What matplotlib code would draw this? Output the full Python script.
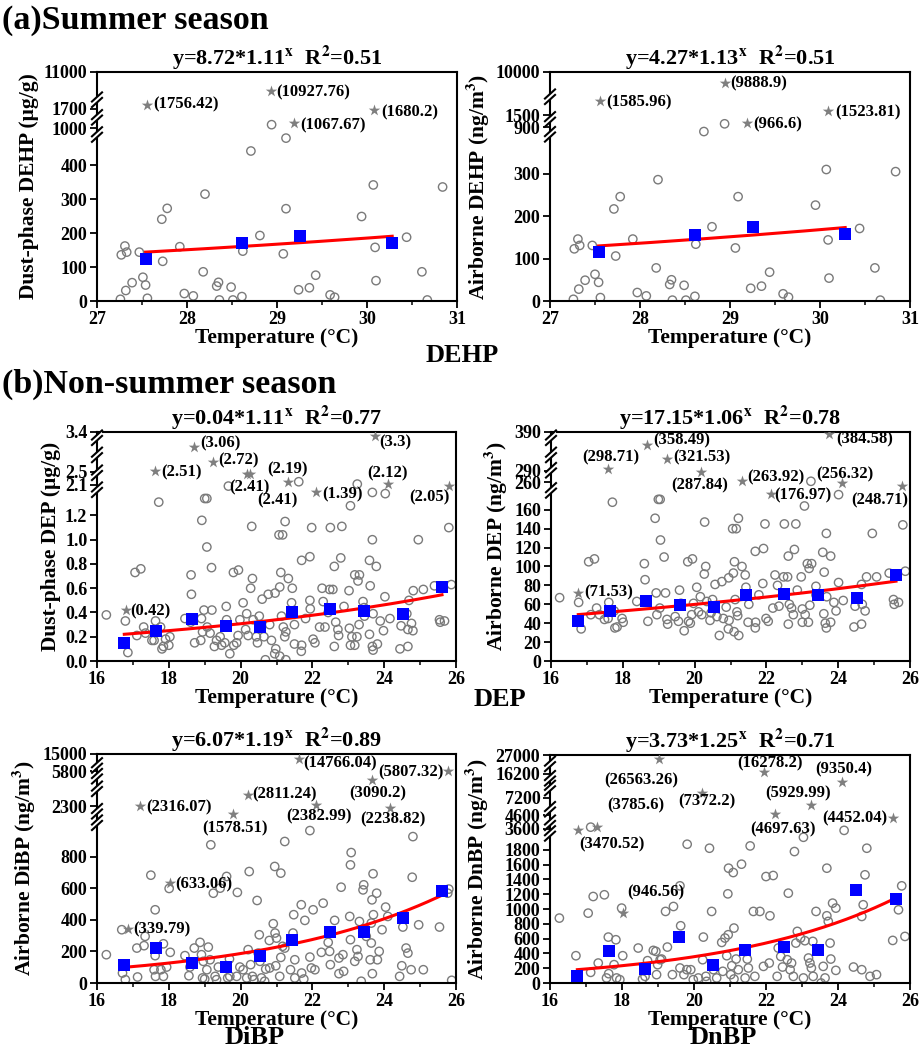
import numpy as np
import matplotlib
matplotlib.use('Agg')
import matplotlib.pyplot as plt
from matplotlib.ticker import AutoMinorLocator
from matplotlib.patches import Polygon

plt.rcParams['font.family'] = ['Liberation Serif', 'DejaVu Serif']
plt.rcParams['font.weight'] = 'bold'
plt.rcParams['axes.labelweight'] = 'bold'
plt.rcParams['axes.titleweight'] = 'bold'
plt.rcParams['mathtext.fontset'] = 'stix'
plt.rcParams['axes.linewidth'] = 1.5

# ---------------- DATA ----------------
# (a) summer, DEHP: temperature (°C), concentration
dehp_dust_pts = [(27.26, 5), (27.27, 136), (27.31, 162), (27.33, 144), (27.32, 31), (27.39, 54), (27.47, 144),
                 (27.51, 70), (27.54, 47), (27.56, 8), (27.72, 241), (27.78, 273), (27.73, 117), (27.92, 160),
                 (27.97, 22), (28.07, 15), (28.18, 86), (28.2, 315), (28.33, 44), (28.35, 55), (28.36, 3),
                 (28.49, 41), (28.51, 3), (28.61, 13), (28.62, 147), (28.71, 442), (28.81, 193), (28.94, 1050),
                 (29.07, 139), (29.1, 272), (29.1, 480), (29.24, 33), (29.36, 39), (29.43, 76), (29.59, 18),
                 (29.64, 11), (29.94, 249), (30.07, 342), (30.09, 158), (30.1, 60), (30.44, 188), (30.61, 86),
                 (30.67, 3), (30.84, 336)]
dehp_air_pts = [(27.26, 4), (27.27, 123), (27.31, 146), (27.33, 131), (27.32, 28), (27.39, 49), (27.47, 131),
                (27.5, 63), (27.54, 44), (27.56, 8), (27.71, 217), (27.78, 246), (27.73, 106), (27.92, 146),
                (27.97, 20), (28.07, 12), (28.18, 78), (28.2, 286), (28.33, 39), (28.35, 50), (28.36, 2),
                (28.49, 37), (28.51, 2), (28.61, 11), (28.62, 134), (28.71, 838), (28.8, 175), (28.94, 950),
                (29.06, 125), (29.09, 246), (29.23, 30), (29.35, 35), (29.44, 68), (29.59, 17), (29.65, 9),
                (29.95, 226), (30.07, 310), (30.09, 144), (30.1, 54), (30.44, 171), (30.61, 78), (30.67, 2),
                (30.84, 305)]

# (b) non-summer, DEP dust (μg/g)
dep_dust_pts = [(16.26, .38), (16.79, .33), (16.86, .07), (17.06, .73), (17.22, .76), (17.11, .21), (17.3, .28),
                (17.35, .23), (17.53, .17), (17.63, .33), (17.59, .17), (17.72, 1.31), (17.77, .28), (17.81, .10),
                (17.85, .12), (17.91, .18), (18.0, .13), (18.03, .20), (18.45, .35), (18.62, .71), (18.63, .55),
                (18.61, .32), (18.72, .15), (18.91, .35), (18.92, 1.16), (18.94, .24), (18.89, .17), (18.98, .42),
                (19.0, 1.34), (19.06, 1.34), (19.06, .94), (19.07, .28), (19.19, .77), (19.2, .42), (19.15, .23),
                (19.27, .12), (19.33, .17), (19.43, .20), (19.47, .13), (19.6, .45), (19.61, .34), (19.56, .15),
                (19.7, .06), (19.8, .73), (19.94, .75), (19.81, .13), (19.89, .15), (19.93, .21), (19.98, .34),
                (20.07, .48), (20.17, .39), (20.14, .26), (20.21, .21), (20.28, .60), (20.31, 1.11), (20.33, .68),
                (20.35, .34), (20.44, .20), (20.47, .15), (20.52, .37), (20.6, .51), (20.65, .20), (20.69, .01),
                (20.77, .55), (20.81, .30), (20.86, .17), (20.96, .56), (20.98, .10), (20.95, .06), (21.07, 1.04),
                (21.17, 1.04), (21.12, .73), (21.09, .61), (21.14, .37), (21.19, .28), (21.24, 1.15), (21.23, .20),
                (21.26, .24), (21.26, .01), (21.09, .04), (21.33, .68), (21.42, .48), (21.44, .60), (21.5, .30),
                (21.5, .14), (21.7, .83), (21.7, .13), (21.69, .08), (21.81, .35), (21.93, .86), (21.93, .50),
                (21.94, .43), (21.98, 1.10), (22.02, .18), (22.07, .15), (22.2, .28), (22.27, .60), (22.3, .49),
                (22.35, .28), (22.44, .40), (22.48, .59), (22.5, 1.10), (22.57, .59), (22.61, .78), (22.61, .12),
                (22.65, .32), (22.71, .26), (22.73, .21), (22.79, .85), (22.82, 1.11), (22.88, .45), (23.02, .58),
                (23.03, .27), (23.06, .13), (23.1, .20), (23.06, 1.28), (23.18, .71), (23.27, .66), (23.31, .71),
                (23.18, .13), (23.24, .20), (23.3, .30), (23.41, .49), (23.44, .44), (23.45, .37), (23.59, .83),
                (23.61, .62), (23.59, .22), (23.67, 1.00), (23.67, .12), (23.69, .09), (23.69, .39), (23.78, .78),
                (23.81, .14), (23.89, .33), (23.98, .25), (24.02, .53), (24.16, .35), (24.44, .10), (24.47, .29),
                (24.63, .39), (24.66, .26), (24.66, .12), (24.69, .50), (24.76, .31), (24.8, .25), (24.81, .58),
                (24.95, 1.00), (25.09, .59), (25.4, .62), (25.54, .34), (25.56, .32), (25.68, .33), (25.8, 1.10),
                (25.87, .63), (19.66, 2.06), (21.62, 2.19), (23.25, 2.12), (23.67, 1.39), (24.03, 1.38)]

# DEP airborne (ng/m3)
dep_air_pts = [(16.24, 67), (16.77, 62), (16.84, 34), (17.05, 105), (17.21, 108), (17.11, 49), (17.27, 56),
               (17.35, 49), (17.49, 44), (17.61, 62), (17.59, 45), (17.71, 168), (17.76, 53), (17.78, 35),
               (17.84, 36), (17.98, 45), (18.01, 41), (18.39, 63), (18.6, 103), (18.62, 86), (18.7, 42),
               (18.9, 151), (18.93, 72), (18.95, 49), (18.99, 171), (19.04, 171), (19.05, 128), (19.03, 56),
               (19.15, 110), (19.19, 72), (19.23, 44), (19.25, 39), (19.46, 47), (19.55, 42), (19.58, 75),
               (19.62, 61), (19.71, 32), (19.81, 105), (19.94, 108), (19.83, 42), (19.92, 49), (19.88, 40),
               (19.97, 61), (20.06, 78), (20.11, 52), (20.16, 68), (20.2, 49), (20.28, 147), (20.27, 92),
               (20.31, 100), (20.34, 63), (20.43, 43), (20.46, 51), (20.5, 65), (20.57, 81), (20.62, 47),
               (20.69, 27), (20.76, 84), (20.8, 45), (20.88, 57), (20.95, 88), (20.94, 34), (20.96, 43),
               (21.06, 140), (21.16, 140), (21.11, 105), (21.08, 93), (21.13, 65), (21.18, 52), (21.22, 151),
               (21.2, 48), (21.23, 27), (21.1, 31), (21.32, 100), (21.41, 91), (21.43, 78), (21.51, 60),
               (21.49, 41), (21.69, 116), (21.69, 35), (21.7, 41), (21.79, 70), (21.9, 82), (21.92, 119),
               (21.96, 145), (21.99, 45), (22.05, 42), (22.18, 56), (22.24, 91), (22.31, 80), (22.35, 58),
               (22.48, 89), (22.5, 145), (22.59, 89), (22.61, 111), (22.61, 39), (22.64, 60), (22.7, 56),
               (22.75, 49), (22.78, 118), (22.82, 145), (22.86, 75), (22.97, 89), (23.0, 55), (23.0, 41),
               (23.06, 164), (23.08, 49), (23.14, 103), (23.19, 98), (23.26, 103), (23.17, 41), (23.21, 59),
               (23.38, 79), (23.38, 70), (23.57, 115), (23.61, 94), (23.6, 50), (23.64, 40), (23.67, 35),
               (23.68, 68), (23.67, 135), (23.79, 111), (23.79, 41), (23.88, 62), (23.94, 53), (24.01, 83),
               (24.14, 64), (24.01, 176), (24.44, 36), (24.47, 58), (24.65, 81), (24.67, 60), (24.65, 39),
               (24.75, 53), (24.79, 89), (24.95, 135), (25.07, 89), (25.42, 93), (25.54, 65), (25.56, 60),
               (25.68, 62), (25.8, 144), (25.87, 95), (23.24, 262)]

# DiBP airborne (ng/m3)
dibp_air_pts = [(16.26, 179), (16.69, 337), (16.71, 63), (16.79, 21), (17.11, 221), (17.13, 38), (17.31, 236),
                (17.34, 295), (17.5, 682), (17.59, 84), (17.62, 463), (17.62, 173), (17.63, 42), (17.78, 84),
                (17.85, 248), (17.85, 42), (17.94, 101), (18.04, 194), (18.01, 598), (18.45, 173), (18.56, 46),
                (18.59, 101), (18.71, 221), (18.87, 257), (18.91, 179), (18.94, 32), (18.96, 137), (19.0, 25),
                (19.06, 84), (19.1, 227), (19.15, 147), (19.17, 874), (19.24, 568), (19.29, 42), (19.33, 21),
                (19.43, 600), (19.38, 101), (19.61, 674), (19.64, 32), (19.69, 152), (19.7, 42), (19.89, 42),
                (19.91, 573), (19.98, 101), (20.07, 84), (20.17, 32), (20.21, 211), (20.24, 705), (20.28, 116),
                (20.33, 42), (20.37, 21), (20.46, 522), (20.52, 305), (20.49, 189), (20.54, 137), (20.58, 32),
                (20.67, 11), (20.7, 88), (20.8, 269), (20.81, 95), (20.91, 375), (20.95, 737), (20.96, 316),
                (20.98, 109), (21.0, 284), (21.12, 695), (21.12, 162), (21.09, 42), (21.17, 232), (21.23, 895),
                (21.23, 221), (21.39, 84), (21.46, 316), (21.48, 432), (21.51, 147), (21.51, 32), (21.69, 495),
                (21.7, 63), (21.79, 396), (21.76, 25), (21.93, 964), (21.93, 164), (21.97, 95), (22.02, 463),
                (22.07, 84), (22.25, 194), (22.3, 505), (22.44, 257), (22.48, 200), (22.5, 116), (22.62, 396),
                (22.74, 158), (22.74, 59), (22.8, 606), (22.85, 179), (22.87, 74), (23.04, 421), (23.06, 274),
                (23.06, 747), (23.08, 825), (23.18, 137), (23.24, 211), (23.27, 168), (23.31, 389), (23.36, 11),
                (23.43, 621), (23.41, 589), (23.5, 295), (23.64, 379), (23.64, 253), (23.61, 147), (23.66, 526),
                (23.67, 59), (23.69, 691), (23.7, 432), (23.79, 568), (23.81, 147), (23.86, 200), (23.94, 337),
                (24.04, 480), (24.1, 421), (24.43, 42), (24.49, 109), (24.52, 354), (24.61, 221), (24.66, 189),
                (24.75, 84), (24.78, 669), (24.8, 926), (24.96, 368), (25.09, 84), (25.54, 354), (25.77, 568),
                (25.8, 594), (25.88, 17)]

# DnBP airborne (ng/m3)
dnbp_air_pts = [(16.26, 878), (16.72, 369), (17.06, 945), (17.13, 144), (17.2, 1170), (17.34, 270), (17.51, 1193),
                (17.62, 621), (17.57, 68), (17.63, 126), (17.78, 248), (17.83, 585), (17.85, 68), (17.94, 45),
                (17.99, 1013), (18.02, 369), (18.45, 473), (18.57, 54), (18.64, 90), (18.71, 302), (18.87, 441),
                (18.94, 428), (18.96, 113), (18.99, 248), (19.06, 315), (19.1, 324), (19.21, 968), (19.26, 486),
                (19.43, 1035), (19.4, 113), (19.61, 1314), (19.63, 774), (19.61, 203), (19.72, 113), (19.81, 1877),
                (19.8, 180), (19.91, 180), (19.98, 45), (20.12, 68), (20.26, 621), (20.24, 315), (20.33, 90),
                (20.35, 22), (20.43, 1823), (20.49, 968), (20.54, 180), (20.63, 68), (20.77, 549), (20.8, 158),
                (20.86, 608), (20.91, 369), (20.95, 653), (20.96, 1553), (20.94, 1206), (21.02, 113), (21.05, 234),
                (21.09, 1494), (21.11, 743), (21.11, 54), (21.17, 324), (21.23, 180), (21.32, 1607), (21.42, 68),
                (21.44, 428), (21.48, 324), (21.51, 203), (21.56, 1854), (21.65, 968), (21.69, 90), (21.83, 968),
                (21.93, 225), (22.0, 1440), (22.09, 270), (22.11, 909), (22.2, 1454), (22.31, 90), (22.34, 473),
                (22.41, 360), (22.46, 216), (22.62, 1215), (22.59, 315), (22.67, 180), (22.71, 270), (22.76, 90),
                (22.79, 1778), (22.83, 540), (22.87, 698), (22.96, 608), (23.04, 1971), (23.04, 68), (23.08, 572),
                (23.18, 338), (23.22, 270), (23.26, 203), (23.3, 563), (23.31, 90), (23.39, 968), (23.53, 0),
                (23.59, 225), (23.64, 68), (23.69, 1553), (23.69, 909), (23.73, 833), (23.78, 540), (23.8, 324),
                (23.85, 1080), (23.94, 1013), (23.94, 171), (24.43, 216), (24.66, 180), (24.66, 900), (24.7, 1058),
                (24.75, 1463), (24.8, 1823), (24.89, 90), (25.07, 113), (25.52, 576), (25.68, 990), (25.77, 1314),
                (25.86, 630), (17.13, 3760), (24.17, 3450)]

# binned means (blue squares)
dehp_dust_bin_t = [27.54, 28.61, 29.26, 30.28]
dehp_dust_bin_c = [125, 170, 192, 172]
dehp_air_bin_t = [27.54, 28.61, 29.25, 30.28]
dehp_air_bin_c = [115, 155, 175, 157]
nons_bin_t = [16.76, 17.64, 18.64, 19.59, 20.53, 21.43, 22.5, 23.45, 24.51, 25.61]
dep_dust_bin_c = [0.15, 0.25, 0.35, 0.29, 0.28, 0.40, 0.43, 0.41, 0.39, 0.61]
dep_air_bin_c = [42, 53, 64, 59, 57, 70, 71, 70, 67, 91]
dibp_air_bin_c = [116, 221, 126, 99, 173, 269, 322, 322, 411, 579]
dnbp_air_bin_c = [90, 428, 189, 621, 248, 450, 482, 441, 1260, 1139]

# exponential fit curves y = a * b**x (as drawn)
fit_params = {'dehp_dust': (8.55, 1.108), 'dehp_air': (7.15, 1.111), 'dep_dust': (0.0395, 1.108),
              'dep_air': (17.58, 1.0632), 'dibp_air': (3.79, 1.215), 'dnbp_air': (5.39, 1.233)}

# outliers (stars) : temperature, value
dehp_dust_star_t = [27.56, 28.93, 29.19, 30.08]
dehp_dust_star_c = [1756.42, 10927.76, 1067.67, 1680.2]
dehp_air_star_t = [27.56, 28.94, 29.19, 30.09]
dehp_air_star_c = [1585.96, 9888.9, 966.6, 1523.81]
dep_dust_star_t = [16.8, 17.62, 18.71, 19.24, 20.17, 21.33, 20.25, 22.11, 23.73, 24.1, 25.8]
dep_dust_star_c = [0.42, 2.51, 3.06, 2.72, 2.41, 2.19, 2.41, 1.39, 3.3, 2.12, 2.05]
dep_air_star_t = [16.74, 17.6, 18.68, 19.23, 20.17, 21.31, 22.12, 23.73, 24.1, 25.77]
dep_air_star_c = [71.53, 298.71, 358.49, 321.53, 287.84, 263.92, 176.97, 384.58, 256.32, 248.71]
dibp_air_star_t = [16.86, 18.02, 17.21, 19.8, 20.21, 22.11, 21.62, 23.67, 24.17, 25.77]
dibp_air_star_c = [339.79, 633.06, 2316.07, 1578.51, 2811.24, 2382.99, 14766.04, 3090.2, 2238.82, 5807.32]
dnbp_air_star_t = [18.02, 16.77, 17.3, 19.03, 20.23, 21.94, 22.25, 23.24, 24.1, 25.52]
dnbp_air_star_c = [946.56, 3470.52, 3785.6, 26563.26, 7372.2, 16278.2, 4697.63, 5929.99, 9350.4, 4452.04]

# y-axis ticks
dehp_dust_yticks = [0, 100, 200, 300, 400, 1000, 1700, 11000]
dehp_air_yticks = [0, 100, 200, 300, 900, 1500, 10000]
dep_dust_yticks = [0.0, 0.2, 0.4, 0.6, 0.8, 1.0, 1.2, 2.1, 2.5, 3.4]
dep_air_yticks = [0, 20, 40, 60, 80, 100, 120, 140, 160, 260, 290, 390]
dibp_air_yticks = [0, 200, 400, 600, 800, 2300, 5800, 15000]
dnbp_air_yticks = [0, 200, 400, 600, 800, 1000, 1200, 1400, 1600, 1800, 3600, 4600, 7200, 16200, 27000]

titles = ['y=8.72*1.11$^{\\mathbf{x}}$  R$^{\\mathbf{2}}$=0.51', 'y=4.27*1.13$^{\\mathbf{x}}$  R$^{\\mathbf{2}}$=0.51',
          'y=0.04*1.11$^{\\mathbf{x}}$  R$^{\\mathbf{2}}$=0.77', 'y=17.15*1.06$^{\\mathbf{x}}$  R$^{\\mathbf{2}}$=0.78',
          'y=6.07*1.19$^{\\mathbf{x}}$  R$^{\\mathbf{2}}$=0.89', 'y=3.73*1.25$^{\\mathbf{x}}$  R$^{\\mathbf{2}}$=0.71']
ylabels = ['Dust-phase DEHP (μg/g)', 'Airborne DEHP (ng/m$^{\\mathbf{3}}$)', 'Dust-phase DEP (μg/g)',
           'Airborne DEP (ng/m$^{\\mathbf{3}}$)', 'Airborne DiBP (ng/m$^{\\mathbf{3}}$)',
           'Airborne DnBP (ng/m$^{\\mathbf{3}}$)']

# ---------------- broken-axis layout (value -> axes fraction) ----------------
seg_p1 = ([0, 485, 940, 1120, 1623, 1800, 10900, 11000], [0, .7187, .7362, .7915, .8134, .8717, .8863, 1])
seg_p2 = ([0, 388, 830, 980, 1490, 1600, 9771, 10000], [0, .7187, .7376, .7828, .8032, .8834, .9009, 1])
seg_p3 = ([0, 1.40, 2.0, 2.45, 2.48, 3.4], [0, .7414, .7551, .8207, .8236, 1])
seg_p4 = ([0, 178, 244, 290, 296, 390], [0, .7347, .7551, .8309, .8353, 1])
seg_p5 = ([0, 980, 1500, 1600, 2200, 2850, 3000, 3150, 5700, 5900, 14600, 15000],
          [0, .6766, .7267, .7384, .7616, .8241, .8721, .8968, .9084, .9419, .9593, 1])
seg_p6 = ([0, 1990, 3400, 3850, 4400, 4750, 5800, 7200, 7450, 9200, 9500, 16100, 16400, 26500, 27000],
          [0, .6453, .6672, .6876, .7182, .7474, .7766, .8131, .8423, .8686, .8905, .9051, .9416, .9810, 1])
breaks = [[.727, .802, .879], [.728, .793, .892], [.748, .822, .90, .975], [.745, .833, .90, .975],
          [.70, .75, .848, .903, .95], [.656, .703, .762, .855, .898, .961]]

# star label placement: (dx, dy) in pixels, horizontal alignment
lab_p1 = [(6, 0, 'left'), (6, -2, 'left'), (6, -2, 'left'), (7, -2, 'left')]
lab_p2 = [(6, -1, 'left'), (6, 0, 'left'), (6, -2, 'left'), (7, -1, 'left')]
lab_p3 = [(5, -1, 'left'), (6, -1, 'left'), (6, 4, 'left'), (5, 1, 'left'), (3, -13, 'center'),
          (-1, 12, 'center'), (28, -26, 'center'), (6, -2, 'left'), (5, -6, 'left'), (0, 11, 'center'),
          (-19, -11, 'center')]
lab_p4 = [(7, 1, 'left'), (2, 11, 'center'), (6, 4, 'left'), (6, 2, 'left'), (-1, -14, 'center'),
          (6, 3, 'left'), (4, -2, 'left'), (8, -5, 'left'), (3, 9, 'center'), (-22, -14, 'center')]
lab_p5 = [(5, 0, 'left'), (6, -1, 'left'), (6, -1, 'left'), (2, -14, 'center'), (4, 1, 'left'),
          (3, -12, 'center'), (4, -4, 'left'), (5, -14, 'center'), (3, -12, 'center'), (-4, -2, 'right')]
lab_p6 = [(33, 21, 'center'), (34, -14, 'center'), (39, 22, 'center'), (-18, -22, 'center'), (5, -8, 'center'),
          (6, 8, 'center'), (8, -16, 'center'), (-13, 12, 'center'), (2, 13, 'center'), (-5, 0, 'right')]

W, H = 921, 1050
fig = plt.figure(figsize=(W / 100, H / 100), dpi=100)
rects = [(97, 72, 457, 301), (550, 72, 910, 301), (97, 432, 456, 661),
         (551, 432, 910, 661), (97, 754, 456, 983), (550, 755, 910, 983)]


def make_axes(r):
    x0, y0, x1, y1 = r
    return fig.add_axes([x0 / W, 1 - y1 / H, (x1 - x0) / W, (y1 - y0) / H])


def draw_panel(ax, pts, bin_t, bin_c, fit, st_t, st_c, labs, seg, brk, yticks, xlim, xstep, title, ylabel):
    sv, sf = np.array(seg[0], float), np.array(seg[1], float)
    ax.set_yscale('function', functions=(lambda v: np.interp(v, sv, sf), lambda f: np.interp(f, sf, sv)))
    ax.set_ylim(sv[0], sv[-1])
    ax.set_xlim(*xlim)

    pts = np.array(pts)
    ax.scatter(pts[:, 0], pts[:, 1], s=36, facecolors='none', edgecolors='#7a7a7a', linewidths=1.0, zorder=2)
    a, b = fit
    xs = np.linspace(bin_t[0], bin_t[-1], 200)
    ax.plot(xs, a * b ** xs, color='red', lw=2.2, zorder=3)
    ax.scatter(bin_t, bin_c, s=66, marker='s', color='#0000ff', zorder=4, linewidths=0)
    ax.scatter(st_t, st_c, s=75, marker='*', color='#7f7f7f', zorder=4, linewidths=0)
    for t, c, (dx, dy, ha) in zip(st_t, st_c, labs):
        ax.annotate(f'({c})', (t, c), xytext=(dx, dy), textcoords='offset pixels', ha=ha, va='center',
                    fontsize=12, zorder=6, annotation_clip=False)

    ax.set_yticks(yticks)
    ax.set_yticklabels([f'{v:.1f}' if isinstance(v, float) else str(v) for v in yticks])
    ax.set_xticks(np.arange(xlim[0], xlim[1] + 0.01, xstep))
    ax.xaxis.set_minor_locator(AutoMinorLocator(2))
    ax.tick_params(axis='both', which='major', direction='out', length=5, width=1.3, labelsize=13, pad=2)
    ax.tick_params(axis='x', which='minor', direction='out', length=3, width=1.1)
    ax.tick_params(axis='y', which='minor', left=False)
    ax.set_title(title, fontsize=16, pad=3)
    ax.set_ylabel(ylabel, fontsize=15.5, labelpad=3)
    ax.set_xlabel('Temperature (°C)', fontsize=15.5, labelpad=0)

    # axis break marks on the left spine
    dx, dy, gap = 0.014, 0.02, 0.012
    for f in brk:
        poly = Polygon([(-dx, f - gap - dy), (dx, f - gap + dy), (dx, f + gap + dy), (-dx, f + gap - dy)],
                       closed=True, transform=ax.transAxes, facecolor='white', edgecolor='none',
                       clip_on=False, zorder=7)
        ax.add_patch(poly)
        for off in (-gap, gap):
            ax.plot([-dx, dx], [f + off - dy, f + off + dy], transform=ax.transAxes, color='k', lw=1.5,
                    clip_on=False, zorder=8)


axs = [make_axes(r) for r in rects]
draw_panel(axs[0], dehp_dust_pts, dehp_dust_bin_t, dehp_dust_bin_c, fit_params['dehp_dust'],
           dehp_dust_star_t, dehp_dust_star_c, lab_p1, seg_p1, breaks[0], dehp_dust_yticks, (27, 31), 1,
           titles[0], ylabels[0])
draw_panel(axs[1], dehp_air_pts, dehp_air_bin_t, dehp_air_bin_c, fit_params['dehp_air'],
           dehp_air_star_t, dehp_air_star_c, lab_p2, seg_p2, breaks[1], dehp_air_yticks, (27, 31), 1,
           titles[1], ylabels[1])
draw_panel(axs[2], dep_dust_pts, nons_bin_t, dep_dust_bin_c, fit_params['dep_dust'],
           dep_dust_star_t, dep_dust_star_c, lab_p3, seg_p3, breaks[2], dep_dust_yticks, (16, 26), 2,
           titles[2], ylabels[2])
draw_panel(axs[3], dep_air_pts, nons_bin_t, dep_air_bin_c, fit_params['dep_air'],
           dep_air_star_t, dep_air_star_c, lab_p4, seg_p4, breaks[3], dep_air_yticks, (16, 26), 2,
           titles[3], ylabels[3])
draw_panel(axs[4], dibp_air_pts, nons_bin_t, dibp_air_bin_c, fit_params['dibp_air'],
           dibp_air_star_t, dibp_air_star_c, lab_p5, seg_p5, breaks[4], dibp_air_yticks, (16, 26), 2,
           titles[4], ylabels[4])
draw_panel(axs[5], dnbp_air_pts, nons_bin_t, dnbp_air_bin_c, fit_params['dnbp_air'],
           dnbp_air_star_t, dnbp_air_star_c, lab_p6, seg_p6, breaks[5], dnbp_air_yticks, (16, 26), 2,
           titles[5], ylabels[5])

fig.text(0.002, 1 - 20 / H, '(a)Summer season', fontsize=24.5, va='center', ha='left')
fig.text(0.002, 1 - 384 / H, '(b)Non-summer season', fontsize=24.5, va='center', ha='left')
fig.text(462 / W, 1 - 355 / H, 'DEHP', fontsize=19, ha='center', va='center')
fig.text(500 / W, 1 - 700 / H, 'DEP', fontsize=19, ha='center', va='center')
fig.text(255 / W, 1 - 1038 / H, 'DiBP', fontsize=19, ha='center', va='center')
fig.text(723 / W, 1 - 1038 / H, 'DnBP', fontsize=19, ha='center', va='center')

fig.savefig('out.png', dpi=100)
